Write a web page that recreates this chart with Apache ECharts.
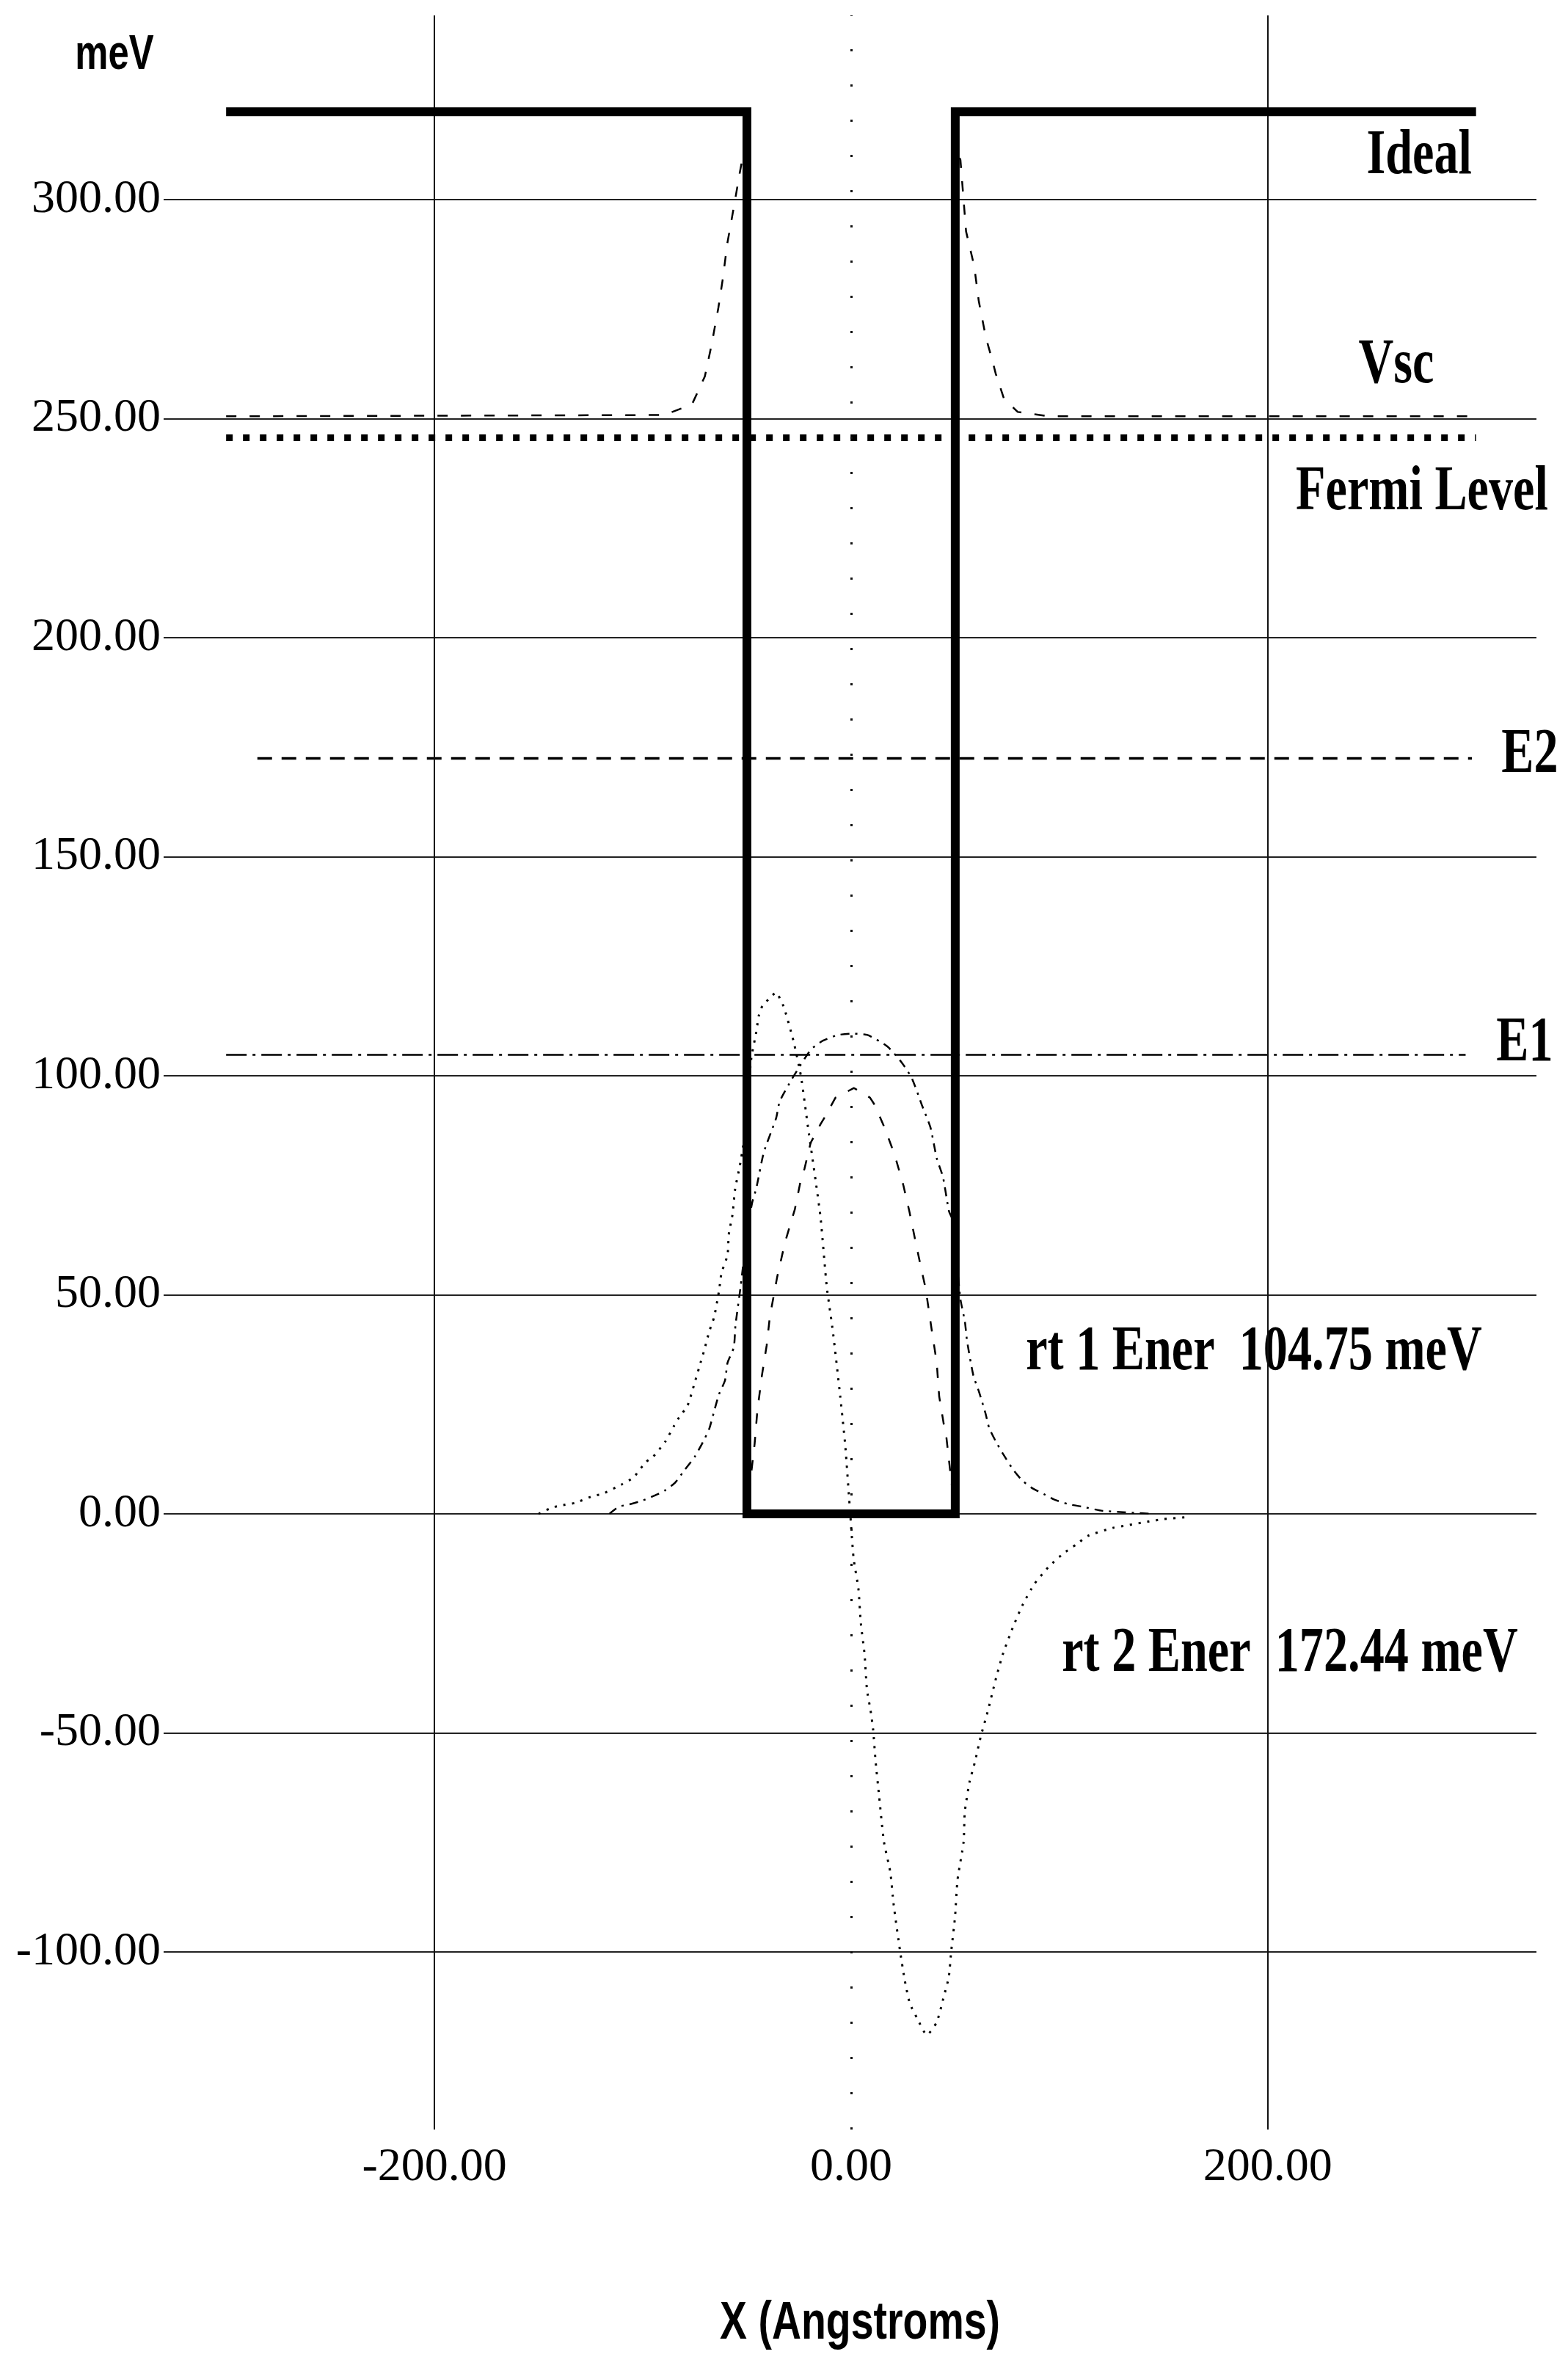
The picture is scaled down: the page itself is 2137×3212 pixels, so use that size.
<!DOCTYPE html>
<html>
<head>
<meta charset="utf-8">
<script src="https://cdn.jsdelivr.net/npm/echarts@6/dist/echarts.min.js"></script>
<style>
html,body{margin:0;padding:0;background:#ffffff;}
#chart{width:2137px;height:3212px;}
</style>
</head>
<body>
<div id="chart"></div>
<script>
// ---- tick values ----
const xTickValues = [-200, 0, 200];
const yTickValues = [-100, -50, 0, 50, 100, 150, 200, 250, 300];

// ---- ideal square-well potential (meV) ----
const idealPotential = [[-300,320],[-50,320],[-50,0],[50,0],[50,320],[300,320]];

// ---- Fermi level ----
const fermiLevel = 245.6;
const fermiRange = [-300, 300];

// ---- subband energies ----
const e1Energy = 104.75;
const e1Range = [-300, 295];
const e2Energy = 172.44;
const e2Range = [-285, 298];

// ---- self-consistent potential Vsc ----
const vscPotential = [
  [-300,250.5],[-90,250.8],[-87.5,251.2],[-76.4,253.2],[-70.2,259.6],[-67.1,266.5],
  [-63.7,275.3],[-61.6,281.8],[-59.4,290],[-56.3,298.2],[-53.5,305.9],[-51.5,311],[-50,314],
  [-50,0],[-48.5,7],[-46.3,16],[-45,23.5],[-42.8,31.6],[-40.5,38.5],[-39,45],[-35.5,54],
  [-31.7,62],[-27,69.5],[-24,76.5],[-22.4,78.7],[-19.4,84.7],[-14.6,89],[-12.3,90.8],
  [-7.5,95],[1.4,97.2],[9.1,95],[11.4,93.3],[16.2,88],[20.9,82],[25.1,75],[28,69],[31,62],
  [33.4,56.6],[35.8,51.4],[38.7,42],[41.1,34.6],[42.3,26.8],[44.7,19.9],[45.8,17.3],[48,8],[50,0],
  [50,312],[52.5,309],[55.2,292.7],[59.1,284.8],[61.3,276.8],[64.8,268.3],[67.8,263.3],
  [69.4,260.3],[73.4,254.5],[80,251.5],[95,250.5],[300,250.5]
];

// ---- wavefunction of state 1 ----
const psi1 = [
  [-116,0],[-111.6,1.6],[-106.3,2.2],[-99.8,3.1],[-92.8,4.5],[-89.2,5.4],[-84.5,7.1],
  [-79.8,10.1],[-75.1,13],[-71,16.5],[-68.1,19.4],[-65.7,23.5],[-63.4,27.3],[-60.5,30.5],
  [-59.3,34.5],[-56.3,38],[-55.5,43],[-53,52],[-50,64],[-47.5,71],[-45.5,74.3],[-41.9,82.5],
  [-36,90.3],[-34.2,94.2],[-27.7,99.8],[-19.4,105.9],[-13.5,108],[-6.3,109.3],[0.8,109.6],
  [7.9,109.3],[17.4,106.7],[24.5,102.9],[29.2,99.4],[34,93.3],[38.1,88.2],[41.1,81.2],
  [44.1,76.9],[47,69.1],[48.8,67],[50.5,59],[52.5,49],[54.6,44],[55.7,39.4],[58.7,31.6],
  [61.6,27.6],[64.5,23],[66.3,19.6],[69.3,16.7],[72.8,13.8],[77.5,10.3],[82,7.7],[86.9,5.9],
  [92.6,4.5],[97.4,3.3],[104.5,2.2],[111.5,1.6],[120.8,0.7],[145,0]
];

// ---- wavefunction of state 2 ----
const psi2 = [
  [-150,0],[-144.4,1.3],[-139.7,1.9],[-132.6,2.5],[-123.2,4.2],[-119.7,4.5],[-109.8,6.8],
  [-104.5,8.3],[-98.6,11.8],[-95.1,13],[-89.2,16.5],[-85.1,20],[-82.2,22.3],[-78.6,24.6],
  [-75.1,29.9],[-72.2,34.6],[-70.4,37.5],[-68.1,41.6],[-65.7,45],[-63.4,50.9],[-62.2,55],
  [-59.3,59.1],[-58.7,63.8],[-56.9,68.4],[-55.7,74],[-53.4,79.5],[-51.5,85],[-50,93],
  [-47.9,104],[-45.5,110],[-44.3,113.7],[-42.5,116],[-38.4,118],[-36.2,119],[-32.4,115.8],
  [-27.7,108],[-24.1,100],[-20.6,88],[-17,76],[-14.6,67.4],[-11.7,52],[-8.7,41.5],[-5.2,26.8],
  [-2.8,15.6],[-0.4,0],[1.2,-10.1],[3.5,-17],[4.7,-25],[6.5,-32.2],[7.6,-40],[9.4,-45],
  [10.6,-49.3],[11.7,-56.1],[13.5,-64.6],[15.8,-74.9],[18.8,-81.7],[20.5,-89.4],[23.5,-99.7],
  [25.8,-106.5],[28.2,-111.7],[31.7,-115.1],[36.4,-118.9],[41.1,-116],[44.6,-110],[46.9,-105.7],
  [48.1,-99.7],[49.9,-92],[51.1,-83.5],[54,-74.9],[54.6,-68],[56.9,-61.1],[59.3,-56.9],
  [62.2,-50.9],[65.7,-44.9],[69.3,-38],[72.8,-32.1],[77.5,-26.1],[82.2,-20.9],[88,-16],
  [95,-12],[102,-9],[108,-7],[113.8,-5],[125.6,-3.2],[132.6,-2.6],[143.2,-1.7],[150,-1.2],[160,-0.8]
];

// ---- annotation texts ----
const annotations = {
  ideal: 'Ideal',
  vsc: 'Vsc',
  fermi: 'Fermi Level',
  e2: 'E2',
  e1: 'E1',
  state1: 'rt 1 Ener  104.75 meV',
  state2: 'rt 2 Ener  172.44 meV',
  yUnit: 'meV',
  xName: 'X (Angstroms)'
};

const serifBold = 'bold 86px "Liberation Serif", "Times New Roman", serif';
const sansBold = 'bold 66px "Liberation Sans", Arial, sans-serif';
const condense = 0.77;

function note(text, x, y, align, font) {
  return {
    type: 'text', x: x, y: y, scaleX: condense, scaleY: 1,
    style: {text: text, font: font || serifBold, fill: '#000', align: align, verticalAlign: 'middle'}
  };
}

const chart = echarts.init(document.getElementById('chart'), null, {renderer: 'canvas'});

const option = {
  animation: false,
  backgroundColor: '#ffffff',
  grid: {left: 223, right: 43, top: 21, bottom: 310, containLabel: false},
  xAxis: {
    type: 'value',
    min: -330,
    max: 329,
    axisLine: {show: false},
    axisTick: {show: false, customValues: xTickValues},
    axisLabel: {
      show: true, customValues: xTickValues, margin: 20,
      fontFamily: '"Liberation Serif", "Times New Roman", serif', fontSize: 64, color: '#000',
      formatter: v => v.toFixed(2)
    },
    splitLine: {show: false}
  },
  yAxis: {
    type: 'value',
    min: -140.5,
    max: 342,
    axisLine: {show: false},
    axisTick: {show: false, customValues: yTickValues},
    axisLabel: {
      show: true, customValues: yTickValues, margin: 4,
      fontFamily: '"Liberation Serif", "Times New Roman", serif', fontSize: 64, color: '#000',
      formatter: v => v.toFixed(2)
    },
    splitLine: {show: true, lineStyle: {color: '#222', width: 2, type: 'solid'}}
  },
  graphic: [
    note(annotations.yUnit, 156, 76, 'center', sansBold),
    note(annotations.xName, 1172, 3167, 'center', 'bold 72px "Liberation Sans", Arial, sans-serif'),
    note(annotations.ideal, 2006, 214, 'right'),
    note(annotations.vsc, 1903, 499, 'center'),
    note(annotations.fermi, 1938, 672, 'center'),
    note(annotations.e2, 2085, 1030, 'center'),
    note(annotations.e1, 2078, 1423, 'center'),
    note(annotations.state1, 1709, 1844, 'center'),
    note(annotations.state2, 1758, 2255, 'center')
  ],
  series: [
    {
      name: 'axes', type: 'line', data: [], silent: true, z: 1,
      markLine: {
        silent: true, symbol: ['none', 'none'], label: {show: false},
        data: [
          {xAxis: xTickValues[0], lineStyle: {color: '#111', width: 2, type: 'solid'}},
          {xAxis: xTickValues[2], lineStyle: {color: '#111', width: 2, type: 'solid'}},
          {xAxis: xTickValues[1], lineStyle: {color: '#111', width: 3, type: [3, 45]}}
        ]
      }
    },
    {
      name: 'E2', type: 'line', z: 3, showSymbol: false, symbol: 'none',
      data: [[e2Range[0], e2Energy], [e2Range[1], e2Energy]],
      lineStyle: {color: '#000', width: 3.5, type: [20, 13]}
    },
    {
      name: 'E1', type: 'line', z: 3, showSymbol: false, symbol: 'none',
      data: [[e1Range[0], e1Energy], [e1Range[1], e1Energy]],
      lineStyle: {color: '#000', width: 2.5, type: [28, 8, 4, 8]}
    },
    {
      name: 'Fermi Level', type: 'line', z: 4, showSymbol: false, symbol: 'none',
      data: [[fermiRange[0], fermiLevel], [fermiRange[1], fermiLevel]],
      lineStyle: {color: '#000', width: 9, type: [9, 14], cap: 'butt'}
    },
    {
      name: 'Vsc', type: 'line', z: 5, showSymbol: false, symbol: 'none',
      data: vscPotential,
      lineStyle: {color: '#000', width: 2.5, type: [14, 18]}
    },
    {
      name: 'psi1', type: 'line', z: 5, showSymbol: false, symbol: 'none', smooth: 0.2,
      data: psi1,
      lineStyle: {color: '#000', width: 2.5, type: [12, 8, 3, 8]}
    },
    {
      name: 'psi2', type: 'line', z: 5, showSymbol: false, symbol: 'none', smooth: 0.2,
      data: psi2,
      lineStyle: {color: '#000', width: 3, type: [3, 9]}
    },
    {
      name: 'Ideal', type: 'line', z: 10, showSymbol: false, symbol: 'none',
      data: idealPotential,
      lineStyle: {color: '#000', width: 12, join: 'miter', cap: 'butt'}
    }
  ]
};

chart.setOption(option);
</script>
</body>
</html>
